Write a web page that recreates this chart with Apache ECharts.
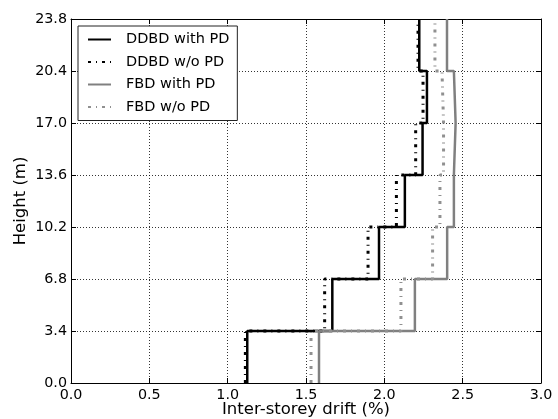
<!DOCTYPE html>
<html><head><meta charset="utf-8">
<script src="https://cdn.jsdelivr.net/npm/echarts@6/dist/echarts.min.js"></script>
<style>html,body{margin:0;padding:0;background:#fff}#c{width:558px;height:419px}</style>
</head><body><div id="c"></div>
<script>
const heights = [0.0, 3.4, 6.8, 10.2, 13.6, 17.0, 20.4, 23.8];
const ddbdWithPD = [1.125, 1.668, 1.966, 2.131, 2.244, 2.272, 2.223];
const ddbdWoPD   = [1.113, 1.619, 1.896, 2.077, 2.200, 2.247, 2.215];
const fbdWithPD  = [1.583, 2.195, 2.401, 2.444, 2.455, 2.444, 2.400];
const fbdWoPD    = [1.532, 2.106, 2.308, 2.355, 2.378, 2.368, 2.323];
const seriesNames = ['DDBD with PD', 'DDBD w/o PD', 'FBD with PD', 'FBD w/o PD'];

function profile(drifts) {
  const pts = [];
  drifts.forEach((d, i) => { pts.push([d, heights[i]]); pts.push([d, heights[i + 1]]); });
  return pts;
}
const FONT = '"DejaVu Sans"';
const chart = echarts.init(document.getElementById('c'), null, {renderer: 'canvas'});
const mkSeries = (name, data, color, width, type) => ({
  name, type: 'line', data: profile(data), symbol: 'none', animation: false,
  lineStyle: {color, width, type, cap: 'butt'}, itemStyle: {color}
});
const axisCommon = {
  axisLine: {show: true, onZero: false, lineStyle: {color: '#000', width: 1}},
  axisTick: {show: true, inside: true, length: 5, lineStyle: {color: '#000'}},
};
chart.setOption({
  animation: false,
  textStyle: {fontFamily: FONT},
  grid: {left: 71, right: 17, top: 19, bottom: 36, show: false,
    containLabel: false, outerBoundsMode: 'none'},
  legend: {
    left: 78, top: 26, orient: 'vertical',
    padding: [6, 8, 6, 9], itemGap: 7.5, itemWidth: 23, itemHeight: 14,
    borderColor: '#222', borderWidth: 1, backgroundColor: '#fff',
    itemStyle: {opacity: 0},
    textStyle: {fontFamily: FONT, fontSize: 14.5, color: '#000', padding: [0, 0, 0, 10]},
    data: seriesNames
  },
  xAxis: [{
    type: 'value', min: 0, max: 3, interval: 0.5, position: 'bottom',
    name: 'Inter-storey drift (%)', nameLocation: 'middle', nameGap: 18,
    nameMoveOverlap: false,
    nameTextStyle: {fontFamily: FONT, fontSize: 16.5, color: '#000'},
    ...axisCommon,
    axisLabel: {fontFamily: FONT, fontSize: 14.3, color: '#000', margin: 5,
      formatter: v => v.toFixed(1)},
    splitLine: {show: true, lineStyle: {color: '#000', type: [1, 2], width: 0.8}}
  }, {
    type: 'value', min: 0, max: 3, interval: 0.5, position: 'top',
    ...axisCommon, axisLabel: {show: false}, splitLine: {show: false}
  }],
  yAxis: [{
    type: 'value', min: 0, max: 23.8, interval: 3.4, position: 'left',
    name: 'Height (m)', nameLocation: 'middle', nameGap: 42, nameRotate: 90,
    nameMoveOverlap: false,
    nameTextStyle: {fontFamily: FONT, fontSize: 16.5, color: '#000'},
    ...axisCommon,
    axisLabel: {fontFamily: FONT, fontSize: 14.3, color: '#000', margin: 4,
      formatter: v => v.toFixed(1)},
    splitLine: {show: true, lineStyle: {color: '#000', type: [1, 2], width: 0.8}}
  }, {
    type: 'value', min: 0, max: 23.8, interval: 3.4, position: 'right',
    ...axisCommon, axisLabel: {show: false}, splitLine: {show: false}
  }],
  series: [
    mkSeries(seriesNames[0], ddbdWithPD, '#000000', 2.5, 'solid'),
    mkSeries(seriesNames[1], ddbdWoPD, '#000000', 3, [3, 5, 1, 5]),
    mkSeries(seriesNames[2], fbdWithPD, '#808080', 2.5, 'solid'),
    mkSeries(seriesNames[3], fbdWoPD, '#909090', 3, [3, 5, 1, 5])
  ]
});
</script></body></html>
